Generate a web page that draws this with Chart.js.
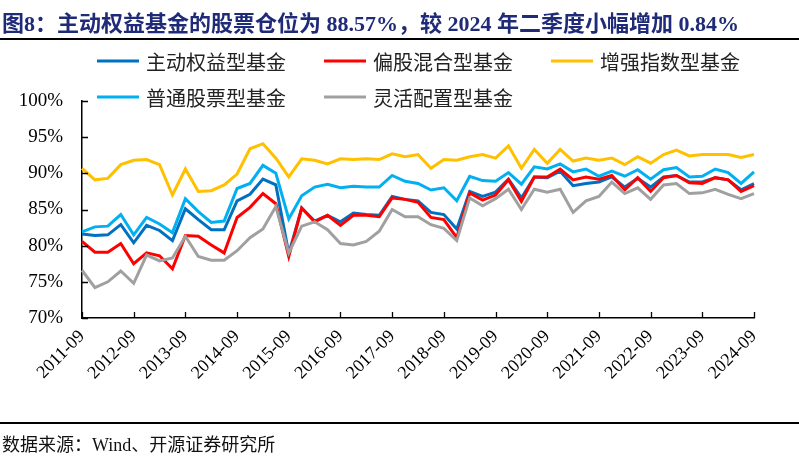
<!DOCTYPE html>
<html>
<head>
<meta charset="utf-8">
<script src="https://cdn.jsdelivr.net/npm/chart.js@4.4.0/dist/chart.umd.min.js"></script>
<style>
  html, body { margin: 0; padding: 0; background: #fff; }
  #wrap { position: relative; width: 799px; height: 458px; overflow: hidden; }
  #chart { position: absolute; left: 0; top: 0; }
  .title { position: absolute; left: 2px; top: 5px; font: bold 22px "Liberation Serif", "Noto Sans CJK SC"; color: #1f2b78; white-space: nowrap; }
  .rule { position: absolute; left: 0; width: 799px; height: 2px; background: #000; }
  .source { position: absolute; left: 2px; top: 430px; font: 18px "Liberation Serif", "Noto Sans CJK SC"; color: #111; white-space: nowrap; }
</style>
</head>
<body>
<div id="wrap">
  <canvas id="chart" width="799" height="458"></canvas>
  <div class="title">图8：主动权益基金的股票仓位为 88.57%，较 2024 年二季度小幅增加 0.84%</div>
  <div class="rule" style="top:38px"></div>
  <div class="rule" style="top:422px"></div>
  <div class="source">数据来源：Wind、开源证券研究所</div>
</div>
<script>
// quarter-end dates
const quarters = [
  '2011-09', '2011-12',
  '2012-03', '2012-06', '2012-09', '2012-12',
  '2013-03', '2013-06', '2013-09', '2013-12',
  '2014-03', '2014-06', '2014-09', '2014-12',
  '2015-03', '2015-06', '2015-09', '2015-12',
  '2016-03', '2016-06', '2016-09', '2016-12',
  '2017-03', '2017-06', '2017-09', '2017-12',
  '2018-03', '2018-06', '2018-09', '2018-12',
  '2019-03', '2019-06', '2019-09', '2019-12',
  '2020-03', '2020-06', '2020-09', '2020-12',
  '2021-03', '2021-06', '2021-09', '2021-12',
  '2022-03', '2022-06', '2022-09', '2022-12',
  '2023-03', '2023-06', '2023-09', '2023-12',
  '2024-03', '2024-06', '2024-09'
];

// stock positions, %
const activeEquity = [81.6, 81.4, 81.5, 82.9, 80.4, 82.8, 82.1, 80.7, 85.1, 83.6, 82.2, 82.2, 86.2, 87.1, 89.2, 88.4, 78.9, 85.2, 83.4, 84.2, 83.3, 84.5, 84.3, 84.2, 86.8, 86.4, 86.2, 84.6, 84.3, 82.3, 87.5, 86.8, 87.4, 89.2, 86.6, 89.5, 89.4, 90.3, 88.3, 88.6, 88.8, 89.5, 88.1, 89.3, 88.1, 89.5, 89.7, 88.8, 88.8, 89.4, 89.1, 87.73, 88.57];
const partialEquity = [80.6, 79.1, 79.1, 80.3, 77.5, 79.0, 78.6, 76.8, 81.4, 81.3, 80.1, 79.0, 83.9, 85.3, 87.2, 85.8, 78.5, 85.2, 83.3, 84.2, 82.8, 84.2, 84.2, 84.0, 86.6, 86.4, 86.0, 83.9, 83.6, 81.1, 87.3, 86.3, 87.0, 89.1, 86.1, 89.5, 89.5, 90.6, 89.1, 89.5, 89.2, 89.7, 87.7, 89.4, 87.5, 89.4, 89.7, 88.7, 88.6, 89.4, 89.1, 87.5, 88.3];
const enhancedIndex = [90.7, 89.1, 89.3, 91.2, 91.8, 91.9, 91.2, 87.0, 90.6, 87.5, 87.6, 88.4, 89.9, 93.4, 94.1, 92.1, 89.5, 92.0, 91.8, 91.3, 92.0, 91.9, 92.0, 91.9, 92.7, 92.3, 92.6, 90.7, 91.9, 91.8, 92.3, 92.6, 92.1, 93.8, 90.7, 93.3, 91.4, 93.3, 91.7, 92.1, 91.8, 92.1, 91.2, 92.3, 91.4, 92.6, 93.2, 92.4, 92.6, 92.6, 92.6, 92.2, 92.6];
const commonStock = [81.9, 82.6, 82.7, 84.3, 81.5, 83.9, 83.0, 81.8, 86.5, 84.7, 83.2, 83.4, 87.9, 88.6, 91.1, 90.0, 83.7, 86.9, 88.1, 88.5, 88.0, 88.2, 88.1, 88.1, 89.7, 88.9, 88.6, 87.7, 88.0, 86.2, 89.6, 89.0, 88.9, 90.1, 88.5, 90.9, 90.6, 91.3, 90.2, 90.6, 89.6, 90.3, 89.6, 90.5, 89.2, 90.5, 90.8, 89.5, 89.6, 90.6, 90.1, 88.6, 90.2];
const flexibleAlloc = [76.6, 74.2, 75.0, 76.5, 74.8, 78.7, 77.9, 78.3, 81.3, 78.5, 78.0, 78.0, 79.3, 81.1, 82.3, 85.4, 79.0, 82.7, 83.3, 82.2, 80.3, 80.1, 80.6, 82.0, 85.0, 84.0, 84.0, 82.9, 82.4, 80.7, 86.6, 85.5, 86.5, 87.8, 85.0, 87.8, 87.4, 87.8, 84.6, 86.2, 86.8, 88.8, 87.2, 88.0, 86.4, 88.4, 88.6, 87.2, 87.3, 87.8, 87.1, 86.5, 87.2];

const seriesNames = ['主动权益型基金', '偏股混合型基金', '增强指数型基金', '普通股票型基金', '灵活配置型基金'];

const serifFont = '"Liberation Serif", "Noto Sans CJK SC"';

// inward tick marks + two-row legend laid out like the original
const axisDecor = {
  id: 'axisDecor',
  afterDraw(chart) {
    const { ctx, chartArea, scales: { x, y } } = chart;
    ctx.save();
    ctx.strokeStyle = '#000';
    ctx.lineWidth = 1.3;
    ctx.beginPath();
    quarters.forEach((q, i) => {
      if (i % 4) return;
      const px = Math.round(x.getPixelForValue(i)) + 0.5;
      ctx.moveTo(px, chartArea.bottom);
      ctx.lineTo(px, chartArea.bottom - 6);
    });
    y.ticks.forEach(t => {
      const py = Math.round(y.getPixelForValue(t.value)) + 0.5;
      ctx.moveTo(chartArea.left, py);
      ctx.lineTo(chartArea.left + 6, py);
    });
    ctx.stroke();

    ctx.font = '20px "Noto Sans CJK SC"';
    ctx.textBaseline = 'middle';
    chart.data.datasets.forEach((ds, i) => {
      const lx = 97 + (i % 3) * 227;
      const ly = 61 + Math.floor(i / 3) * 36;
      ctx.strokeStyle = ds.borderColor;
      ctx.lineWidth = 3;
      ctx.beginPath();
      ctx.moveTo(lx, ly);
      ctx.lineTo(lx + 42, ly);
      ctx.stroke();
      ctx.fillStyle = '#222';
      ctx.fillText(ds.label, lx + 49, ly + 1);
    });
    ctx.restore();
  }
};

const ctx = document.getElementById('chart').getContext('2d');
new Chart(ctx, {
  type: 'line',
  data: {
    labels: quarters,
    datasets: [
      { label: seriesNames[0], data: activeEquity, borderColor: '#0070c0', order: 5 },
      { label: seriesNames[1], data: partialEquity, borderColor: '#ff0000', order: 4 },
      { label: seriesNames[2], data: enhancedIndex, borderColor: '#ffc000', order: 3 },
      { label: seriesNames[3], data: commonStock, borderColor: '#00b0f0', order: 2 },
      { label: seriesNames[4], data: flexibleAlloc, borderColor: '#a0a0a0', order: 1 },
    ],
  },
  options: {
    responsive: false,
    animation: false,
    datasets: {
      line: { borderWidth: 3, pointRadius: 0, tension: 0, fill: false },
    },
    layout: { padding: { top: 101, right: 45, bottom: 0, left: 0 } },
    plugins: {
      legend: { display: false },
      tooltip: { enabled: false },
    },
    scales: {
      x: {
        offset: false,
        grid: { display: false, drawTicks: false },
        border: { display: true, color: '#000', width: 1.5 },
        ticks: {
          autoSkip: false,
          minRotation: 45,
          maxRotation: 45,
          padding: 8,
          color: '#000',
          font: { family: serifFont, size: 18 },
          callback: (v, i) => (i % 4 === 0 ? quarters[i] : null),
        },
        afterFit: (s) => { s.height = 140; },
      },
      y: {
        min: 70,
        max: 100,
        grid: { display: false, drawTicks: false },
        border: { display: true, color: '#000', width: 1.5 },
        ticks: {
          stepSize: 5,
          padding: 19,
          color: '#000',
          font: { family: serifFont, size: 19 },
          callback: (v) => v + '%',
        },
        afterFit: (s) => { s.width = 82; },
      },
    },
  },
  plugins: [axisDecor],
});
</script>
</body>
</html>
